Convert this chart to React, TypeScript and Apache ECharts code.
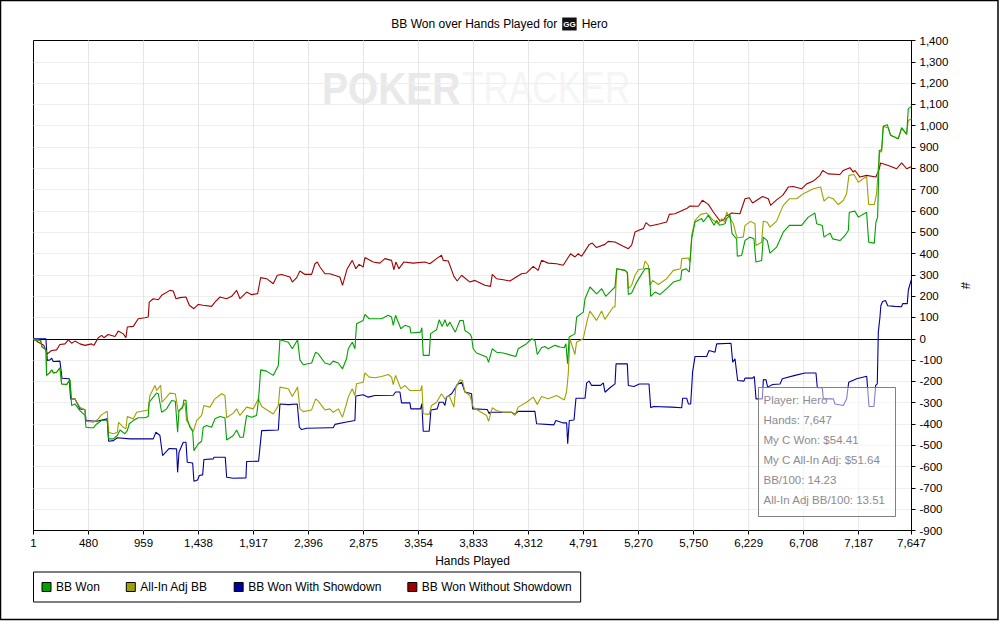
import React, { useEffect, useRef } from "react";
import * as echarts from "echarts";

const chartTitle = "BB Won over Hands Played for";
const playerName = "Hero";
const xTicks = [1, 480, 959, 1438, 1917, 2396, 2875, 3354, 3833, 4312, 4791, 5270, 5750, 6229, 6708, 7187, 7647];
const infoLines = ["Player: Hero", "Hands: 7,647", "My C Won: $54.41", "My C All-In Adj: $51.64", "BB/100: 14.23", "All-In Adj BB/100: 13.51"];
const seriesNames = ["BB Won", "All-In Adj BB", "BB Won With Showdown", "BB Won Without Showdown"];
const seriesColors = ["#00A000", "#A0A000", "#0000A0", "#A00000"];
const yMin = -900;
const yMax = 1400;

const earlyShared: [number, number][] = [
  [1,0],[5,-5],[28,-5],[63,-8],[75,-39],[100,-47],[110,-55],[115,-172],[138,-161],[162,-146],[173,-160],[202,-157],[231,-136],[246,-212],[289,-215],[318,-193],
];

const bbWon: [number, number][] = [
  ...earlyShared,
  [333,-313],[362,-306],[405,-337],[449,-360],[458,-415],[493,-418],[522,-418],[551,-400],[594,-384],[643,-381],[655,-470],[696,-470],[731,-454],[754,-428],[797,-446],[818,-431],[835,-399],[870,-384],[913,-371],[971,-371],[1000,-365],[1009,-298],[1044,-274],[1073,-255],[1088,-258],[1117,-345],[1160,-329],[1204,-290],[1236,-293],[1256,-439],[1268,-337],[1300,-324],[1311,-287],[1329,-290],[1340,-376],[1363,-415],[1387,-435],[1398,-525],[1436,-493],[1465,-481],[1479,-415],[1508,-407],[1552,-415],[1581,-376],[1625,-365],[1668,-371],[1683,-475],[1741,-454],[1770,-428],[1799,-462],[1828,-462],[1857,-360],[1901,-368],[1944,-360],[1961,-282],[1979,-146],[2031,-152],[2089,-172],[2133,-125],[2147,-5],[2220,-16],[2255,-47],[2301,-5],[2321,-99],[2350,-122],[2423,-114],[2458,-63],[2481,-71],[2539,-114],[2582,-121],
  [2611,-105],[2655,-114],[2692,-141],[2727,-94],[2742,-47],[2777,-16],[2800,-47],[2814,70],[2872,86],[2887,114],[2925,94],[2974,94],[3032,94],[3090,110],[3119,102],[3134,63],[3154,110],[3200,47],[3235,63],[3279,55],[3287,27],[3372,31],[3383,52],[3395,-78],[3447,-78],[3459,24],[3511,42],[3534,89],[3560,58],[3584,89],[3604,58],[3627,78],[3674,31],[3714,86],[3743,86],[3758,39],[3801,23],[3816,8],[3830,-47],[3859,-67],[3947,-86],[3964,-110],[3996,-47],[4033,-63],[4092,-67],[4164,-78],[4202,-83],[4222,-47],[4295,-23],[4339,0],[4368,-8],[4388,-74],[4425,-42],[4454,-36],[4483,-47],[4542,-31],[4585,-39],[4623,-42],[4637,-23],[4652,-117],[4666,8],[4716,23],
  [4731,102],[4789,125],[4804,188],[4847,243],[4905,211],[4949,235],[4984,199],[5036,227],[5065,243],[5080,329],[5152,321],[5172,313],[5181,208],[5210,215],[5254,266],[5326,329],[5364,329],[5376,199],[5413,219],[5457,208],[5515,235],[5573,266],[5637,277],[5646,321],[5683,329],[5712,313],[5733,470],[5762,548],[5820,564],[5834,548],[5878,580],[5927,533],[5950,556],[5974,533],[6023,540],[6037,564],[6067,580],[6084,493],[6124,469],
  [6130,388],[6168,391],[6197,461],[6240,477],[6275,469],[6292,360],[6342,367],[6356,477],[6391,461],[6414,402],[6472,430],[6530,500],[6583,532],[6647,532],[6690,532],[6748,571],[6806,590],[6821,540],[6870,532],[6885,477],[6937,496],[6960,469],[7024,461],[7068,485],[7097,508],[7105,594],[7155,599],[7184,571],[7256,594],[7274,453],[7323,449],[7337,547],[7352,571],[7366,884],[7387,887],[7401,997],[7436,1005],[7465,955],[7532,939],[7561,991],[7605,959],[7619,1080],[7647,1091],
];

const allInAdj: [number, number][] = [
  ...earlyShared,
  [333,-282],[362,-282],[405,-321],[449,-334],[458,-387],[522,-392],[565,-376],[594,-356],[643,-340],[655,-439],[696,-446],[731,-439],[742,-392],[783,-415],[806,-423],[818,-365],[870,-376],[899,-345],[1000,-334],[1015,-266],[1059,-219],[1073,-243],[1108,-219],[1120,-298],[1189,-255],[1236,-258],[1262,-345],[1320,-302],[1334,-384],[1393,-434],[1422,-384],[1465,-360],[1485,-313],[1537,-321],[1581,-282],[1639,-258],[1668,-266],[1683,-371],[1741,-349],[1770,-329],[1799,-360],[1857,-321],[1915,-329],[1959,-282],[1988,-318],[2089,-353],[2133,-313],[2147,-227],[2220,-235],[2255,-271],[2301,-227],[2321,-329],[2350,-342],[2423,-334],[2458,-282],[2481,-293],[2539,-334],[2582,-329],
  [2611,-345],[2655,-329],[2692,-368],[2727,-305],[2742,-274],[2777,-235],[2800,-266],[2814,-211],[2872,-204],[2887,-160],[2925,-180],[2974,-183],[3032,-177],[3090,-168],[3119,-180],[3134,-215],[3154,-172],[3200,-235],[3235,-219],[3279,-243],[3372,-243],[3383,-219],[3395,-352],[3447,-355],[3467,-313],[3511,-298],[3554,-258],[3584,-282],[3621,-266],[3662,-321],[3679,-227],[3714,-193],[3737,-196],[3758,-250],[3801,-266],[3830,-321],[3874,-337],[3947,-360],[3964,-388],[3996,-324],[4033,-337],[4092,-345],[4164,-345],[4193,-360],[4222,-321],[4295,-298],[4353,-274],[4388,-308],[4425,-271],[4483,-282],[4556,-266],[4623,-287],[4643,-250],[4658,-164],[4672,0],[4716,-74],[4730,-16],[4788,0],[4823,86],[4846,130],[4904,86],[4948,130],[4977,91],[5050,149],
  [5065,149],[5080,329],[5152,321],[5175,305],[5181,235],[5210,251],[5239,298],[5268,324],[5312,329],[5326,365],[5355,345],[5370,251],[5393,274],[5442,255],[5515,282],[5573,321],[5637,329],[5646,376],[5704,379],[5718,360],[5733,486],[5762,556],[5812,584],[5864,590],[5921,556],[5965,540],[5994,564],[6023,548],[6037,595],[6067,564],[6096,540],[6119,490],
  [6130,474],[6182,477],[6197,532],[6246,551],[6284,540],[6292,438],[6342,453],[6356,552],[6391,547],[6414,524],[6472,552],[6530,626],[6583,657],[6647,657],[6705,681],[6792,704],[6856,712],[6885,646],[6922,665],[6966,657],[7009,630],[7053,649],[7082,681],[7102,767],[7146,771],[7184,735],[7256,762],[7274,630],[7323,630],[7343,681],[7358,806],[7372,884],[7387,876],[7401,997],[7445,989],[7465,955],[7532,939],[7561,986],[7605,962],[7619,1025],[7647,1033],
];

const withShowdown: [number, number][] = [
  [1,0],[109,0],[121,-102],[144,-99],[159,-91],[173,-107],[231,-105],[249,-185],[313,-188],[324,-282],[362,-282],[405,-329],[449,-332],[458,-384],[551,-387],[643,-376],[655,-481],[696,-478],[731,-465],[841,-470],[1044,-470],[1067,-439],[1102,-454],[1125,-548],[1183,-515],[1247,-517],[1256,-627],[1268,-533],[1305,-486],[1329,-486],[1340,-580],[1387,-583],[1398,-669],[1430,-663],[1445,-642],[1474,-639],[1485,-567],[1567,-564],[1573,-556],[1671,-556],[1683,-650],[1741,-655],[1851,-653],[1857,-576],[1961,-575],[1988,-431],[2133,-428],[2147,-306],[2220,-309],[2298,-306],[2316,-415],[2336,-426],[2380,-420],[2582,-418],
  [2611,-418],[2626,-402],[2727,-391],[2800,-384],[2808,-269],[2872,-263],[2916,-274],[2974,-266],[3134,-265],[3154,-250],[3192,-250],[3206,-301],[3279,-301],[3287,-329],[3372,-329],[3383,-305],[3395,-434],[3447,-434],[3462,-334],[3517,-329],[3534,-298],[3569,-298],[3584,-313],[3598,-274],[3642,-258],[3679,-227],[3691,-215],[3729,-204],[3758,-250],[3816,-258],[3825,-329],[3952,-332],[3970,-352],[3975,-345],[4164,-345],[4193,-355],[4222,-341],[4367,-340],[4382,-399],[4533,-404],[4550,-384],[4614,-395],[4644,-395],[4653,-493],[4667,-384],[4708,-381],[4725,-279],[4804,-279],[4818,-207],[4839,-199],[4862,-219],[4940,-219],[4963,-207],[4978,-251],[5021,-230],[5065,-212],[5074,-118],[5172,-118],[5181,-219],[5230,-224],[5277,-212],[5361,-212],[5376,-324],[5399,-318],[5559,-321],[5646,-324],[5654,-279],[5689,-279],[5704,-306],[5724,-306],[5741,-154],[5762,-83],[5863,-83],[5884,-55],[5936,-63],[5950,-24],[6075,-21],[6090,-110],[6110,-94],[6133,-196],[6188,-199],[6197,-185],[6264,-185],[6278,-177],[6293,-282],[6348,-282],[6357,-191],[6380,-193],[6394,-227],[6438,-215],[6502,-212],[6522,-188],[6632,-172],[6719,-161],[6815,-161],[6827,-230],[6870,-230],[6879,-282],[6966,-282],[6981,-306],[7053,-313],[7082,-282],[7100,-204],[7169,-188],[7257,-176],[7277,-318],[7320,-318],[7335,-219],[7349,-212],[7358,31],[7372,100],[7380,155],[7395,175],[7420,180],[7440,155],[7500,152],[7560,150],[7570,165],[7610,165],[7620,230],[7647,280],
];

const withoutShowdown: [number, number][] = [
  [1,0],[40,-15],[90,-30],[121,-71],[159,-55],[202,-52],[231,-27],[275,-24],[304,-5],[333,-21],[362,-11],[405,-24],[449,-31],[507,-24],[527,-31],[565,5],[594,16],[614,5],[652,20],[711,11],[739,36],[783,23],[806,5],[818,55],[870,58],[913,94],[971,99],[1000,102],[1009,172],[1044,188],[1088,183],[1117,204],[1189,227],[1218,224],[1242,188],[1276,193],[1329,196],[1358,157],[1398,141],[1436,161],[1479,157],[1552,152],[1581,172],[1625,196],[1683,188],[1727,199],[1770,227],[1799,188],[1857,219],[1901,207],[1953,212],[1979,287],[2031,282],[2089,258],[2124,298],[2162,302],[2234,290],[2255,266],[2293,287],[2321,318],[2365,302],[2423,302],[2452,352],[2472,360],[2496,337],[2539,305],[2582,305],
  [2669,290],[2692,251],[2733,329],[2777,368],[2808,329],[2837,349],[2872,337],[2887,381],[2959,360],[3017,355],[3061,376],[3119,368],[3139,324],[3157,360],[3183,329],[3226,360],[3308,355],[3409,360],[3453,352],[3511,376],[3554,392],[3569,368],[3613,365],[3662,293],[3691,271],[3729,298],[3801,266],[3845,274],[3932,251],[3981,246],[3996,302],[4033,282],[4092,277],[4150,271],[4251,305],[4295,309],[4353,340],[4396,321],[4425,368],[4483,355],[4556,352],[4614,345],[4678,399],[4716,384],[4745,399],[4774,387],[4841,443],[4867,449],[4904,428],[4977,443],[5006,457],[5064,454],[5137,434],[5181,423],
  [5210,439],[5239,501],[5283,512],[5312,517],[5335,545],[5370,529],[5457,540],[5515,548],[5538,584],[5587,587],[5689,611],[5718,623],[5791,622],[5826,650],[5878,631],[5921,595],[5979,553],[6008,556],[6037,580],[6051,579],[6080,590],[6153,587],
  [6197,657],[6234,662],[6263,637],[6350,668],[6400,657],[6420,626],[6472,652],[6525,673],[6574,712],[6617,715],[6690,704],[6734,727],[6792,740],[6850,767],[6873,790],[6922,774],[7024,771],[7053,790],[7111,803],[7140,782],[7155,790],[7198,759],[7256,767],[7337,759],[7366,798],[7378,825],[7445,813],[7517,798],[7561,826],[7605,798],[7647,809],
];

const seriesData = [bbWon, allInAdj, withShowdown, withoutShowdown];
const seriesZ = [8, 7, 6, 5];
const uiFont = "'Liberation Sans', Arial, sans-serif";

export default function App() {
  const ref = useRef<HTMLDivElement>(null);
  useEffect(() => {
    const chart = echarts.init(ref.current!, undefined, { renderer: "svg" });
    const fmt = (v: number) => v.toLocaleString("en-US");
    const verticalGrid = xTicks.slice(1, -1).flatMap((t) => [[t, yMin], [t, yMax], [t, null]]);
    chart.setOption({
      animation: false,
      backgroundColor: "#fff",
      textStyle: { fontFamily: uiFont },
      title: {
        text: `{t|${chartTitle}} {i|GG} {t|${playerName}}`,
        left: "center",
        top: 15,
        padding: 0,
        textStyle: {
          rich: {
            t: { fontSize: 12, color: "#000", fontFamily: uiFont, fontWeight: "normal" },
            i: { fontSize: 8, fontWeight: "bold", color: "#fff", backgroundColor: "#111", padding: [3, 1, 2, 1], fontFamily: uiFont },
          },
        },
      },
      legend: {
        left: 33.5,
        top: 572,
        orient: "horizontal",
        icon: "rect",
        itemWidth: 9,
        itemHeight: 9,
        itemGap: 26,
        padding: [9, 9, 9, 8],
        borderColor: "#000",
        borderWidth: 1,
        backgroundColor: "#fff",
        selectedMode: false,
        itemStyle: { borderColor: "#000", borderWidth: 1 },
        textStyle: { fontSize: 12, color: "#000", fontFamily: uiFont },
        data: seriesNames,
      },
      grid: { left: 33.5, top: 40.5, right: 87.5, bottom: 90.5, show: true, borderColor: "#000", borderWidth: 1, backgroundColor: "#fff" },
      xAxis: {
        type: "value",
        min: 1,
        max: 7647,
        name: "Hands Played",
        nameLocation: "middle",
        nameGap: 24,
        nameTextStyle: { fontSize: 12, color: "#000", fontFamily: uiFont },
        axisLine: { onZero: false, lineStyle: { color: "#000" } },
        axisTick: { show: true, length: 4, customValues: xTicks, lineStyle: { color: "#000" } },
        axisLabel: { customValues: xTicks, formatter: fmt, fontSize: 11.5, color: "#000", margin: 6, fontFamily: uiFont, hideOverlap: false },
        splitLine: { show: false },
      },
      yAxis: {
        type: "value",
        position: "right",
        min: yMin,
        max: yMax,
        interval: 100,
        name: "#",
        nameLocation: "middle",
        nameGap: 45,
        nameRotate: -90,
        nameTextStyle: { fontSize: 13, color: "#000", fontFamily: uiFont },
        axisLine: { show: true, onZero: false, lineStyle: { color: "#000" } },
        axisTick: { show: true, length: 4, lineStyle: { color: "#000" } },
        axisLabel: { formatter: fmt, fontSize: 11.5, color: "#000", margin: 8, fontFamily: uiFont, hideOverlap: false },
        splitLine: { show: true, showMinLine: false, showMaxLine: false, lineStyle: { color: "#EEEEEE", width: 1 } },
      },
      series: [
        {
          name: "Vertical grid",
          type: "line",
          data: verticalGrid,
          symbol: "none",
          z: 1,
          silent: true,
          connectNulls: false,
          color: "#E6E6E6",
          lineStyle: { width: 1, color: "#E6E6E6" },
        },
        ...seriesNames.map((name, i) => ({
          name,
          type: "line",
          data: seriesData[i],
          symbol: "none",
          z: seriesZ[i],
          color: seriesColors[i],
          itemStyle: { color: seriesColors[i] },
          lineStyle: { width: 1.1, color: seriesColors[i] },
          silent: true,
          markLine: i === 3 ? {
            silent: true,
            symbol: "none",
            label: { show: false },
            lineStyle: { color: "#000", width: 1, type: "solid" },
            data: [{ yAxis: 0 }],
          } : undefined,
        })),
      ],
      graphic: [
        { type: "rect", silent: true, z: -1, shape: { x: 0.5, y: 0.5, width: 997.5, height: 619 }, style: { fill: "none", stroke: "#000", lineWidth: 1.5 } },
        { type: "text", silent: true, z: 0, x: 322, y: 66, scaleX: 0.865, style: { text: "POKER", font: "bold 45px 'Liberation Sans', sans-serif", fill: "#E9E9E9" } },
        { type: "text", silent: true, z: 0, x: 462, y: 66, scaleX: 0.8, style: { text: "TRACKER", font: "44px 'Liberation Sans', sans-serif", fill: "#F5F5F5" } },
        { type: "rect", silent: true, z: 20, shape: { x: 758.5, y: 387.5, width: 137, height: 129 }, style: { fill: "rgba(255,255,255,0.5)", stroke: "#808080", lineWidth: 1 } },
        ...infoLines.map((t, i) => ({
          type: "text", silent: true, z: 21, x: 763.5, y: 394 + i * 20,
          style: { text: t, fontSize: 11.5, fontFamily: uiFont, fill: "#8E8A90" },
        })),
      ],
    });
    return () => chart.dispose();
  }, []);
  return <div ref={ref} style={{ position: "fixed", left: 0, top: 0, width: 999, height: 621 }} />;
}
